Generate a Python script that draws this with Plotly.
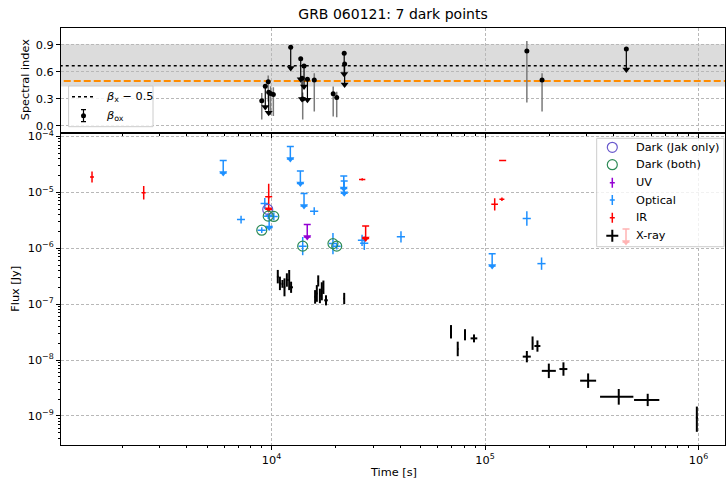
import plotly.graph_objects as go

# ---------------- data ----------------
# X-ray detections (time [s], flux [Jy], asymmetric errors)
xray_t = [10700, 10950, 11250, 11500, 11800, 12100, 12350, 16000, 16300, 16550, 16850, 17200, 17500, 18000, 21900,
          69300, 74500, 80600, 88800, 157000, 167000, 176000, 199000, 233000, 304000, 423000, 578000, 982000]
xray_t_lo = [100, 100, 100, 100, 100, 100, 250, 100, 100, 100, 100, 100, 100, 350, 150,
             300, 600, 700, 3200, 6800, 1000, 5700, 14500, 10000, 25100, 77200, 79100, 10000]
xray_t_hi = [100, 100, 100, 100, 100, 100, 250, 100, 100, 100, 100, 100, 100, 350, 150,
             300, 600, 700, 3200, 6800, 1000, 5700, 15600, 10000, 27400, 72200, 77200, 10000]
xray_f = [3.1e-7, 2.35e-7, 2.3e-7, 2.0e-7, 2.7e-7, 2.7e-7, 2.0e-7, 1.35e-7, 1.55e-7, 2.6e-7, 1.4e-7, 1.7e-7, 2.0e-7, 1.17e-7, 1.26e-7,
          3.2e-8, 1.58e-8, 2.83e-8, 2.44e-8, 1.15e-8, 2.0e-8, 1.78e-8, 6.4e-9, 6.9e-9, 4.27e-9, 2.2e-9, 1.93e-9, 9.3e-10]
xray_f_lo = [0.75e-7, 0.57e-7, 0.34e-7, 0.62e-7, 0.65e-7, 0.92e-7, 0.41e-7, 0.33e-7, 0.45e-7, 0.53e-7, 0.36e-7, 0.53e-7, 0.48e-7, 0.22e-7, 0.26e-7,
             0.77e-8, 0.41e-8, 0.58e-8, 0.37e-8, 0.24e-8, 0.48e-8, 0.37e-8, 1.65e-9, 1.66e-9, 1.1e-9, 0.61e-9, 0.43e-9, 4.1e-10]
xray_f_hi = [0.99e-7, 0.75e-7, 0.40e-7, 0.89e-7, 0.86e-7, 1.38e-7, 0.52e-7, 0.43e-7, 0.64e-7, 0.67e-7, 0.49e-7, 0.76e-7, 0.64e-7, 0.27e-7, 0.33e-7,
             1.02e-8, 0.55e-8, 0.73e-8, 0.43e-8, 0.30e-8, 0.64e-8, 0.46e-8, 2.23e-9, 2.19e-9, 1.49e-9, 0.83e-9, 0.56e-9, 5.4e-10]

# Optical detections
opt_t = [7200, 9300, 9000, 9650, 10250, 14000, 15850, 19400, 20200, 26550, 27200, 40400, 157000, 184000]
opt_t_err = [310, 410, 400, 425, 450, 615, 700, 850, 890, 1170, 1200, 1780, 6900, 8100]
opt_f = [3.25e-6, 6.3e-6, 2.1e-6, 3.75e-6, 3.7e-6, 1.09e-6, 4.6e-6, 1.21e-6, 1.09e-6, 1.39e-6, 1.23e-6, 1.6e-6, 3.4e-6, 5.3e-7]
opt_f_lo = [4.8e-7, 1.3e-6, 2.3e-7, 4.1e-7, 5.5e-7, 3.4e-7, 6.9e-7, 4.3e-7, 1.4e-7, 2.9e-7, 3.0e-7, 3.3e-7, 8.8e-7, 1.19e-7]
opt_f_hi = [5.7e-7, 1.63e-6, 2.6e-7, 4.6e-7, 6.5e-7, 4.9e-7, 8.0e-7, 6.6e-7, 1.6e-7, 3.6e-7, 3.9e-7, 4.1e-7, 1.19e-6, 1.53e-7]
# Optical upper limits
opt_ul_t = [5940, 9750, 12250, 13650, 14200, 21800, 21900, 108000]
opt_ul_f = [3.7e-5, 3.9e-6, 6.6e-5, 2.4e-5, 9.5e-6, 1.95e-5, 1.6e-5, 8.0e-7]

# IR detections
ir_t = [1443, 2520, 9700, 26600, 111000, 120000, 121000]
ir_t_err = [31, 55, 0, 900, 4000, 3200, 4600]
ir_f = [1.88e-5, 9.8e-6, 1.05e-5, 1.7e-5, 6.1e-6, 7.5e-6, 3.7e-5]
ir_f_lo = [3.87e-6, 2.36e-6, 2.72e-6, 7.7e-7, 1.37e-6, 5.0e-7, 0.0]
ir_f_hi = [4.87e-6, 3.12e-6, 3.66e-6, 8.1e-7, 1.76e-6, 5.4e-7, 0.0]
# IR upper limits
ir_ul_t = [9700, 27600]
ir_ul_f = [8.3e-6, 2.5e-6]

# UV upper limits
uv_ul_t = [14700]
uv_ul_f = [2.65e-6]

# Dark points
dark_jak_t = [9600]
dark_jak_f = [4.95e-6]
dark_both_t = [9000, 9650, 10250, 14000, 19400, 20200]
dark_both_f = [2.1e-6, 3.75e-6, 3.7e-6, 1.09e-6, 1.21e-6, 1.09e-6]

# Spectral index panel: beta_ox detections
box_t = [9000, 9650, 9900, 10200, 14000, 15860, 19450, 20200, 157000, 185000]
box_v = [0.28, 0.49, 0.36, 0.35, 0.30, 0.51, 0.356, 0.315, 0.833, 0.511]
box_lo = [0.21, 0.22, 0.24, 0.24, 0.23, 0.35, 0.253, 0.218, 0.574, 0.352]
box_hi = [0.085, 0.07, 0.08, 0.08, 0.07, 0.075, 0.081, 0.065, 0.111, 0.074]
# beta_ox upper limits
box_ul_t = [9350, 9700, 12300, 13700, 13900, 14200, 14730, 21900, 22000, 459000]
box_ul_v = [0.44, 0.375, 0.875, 0.748, 0.53, 0.667, 0.52, 0.807, 0.689, 0.856]

beta_x_minus_half = 0.67
beta_x_band_lo = 0.437
beta_x_band_hi = 0.908
dark_threshold = 0.5

# tick labels
x_tickvals = [1e4, 1e5, 1e6]
x_ticktext = ["10<sup>4</sup>", "10<sup>5</sup>", "10<sup>6</sup>"]
y_tickvals = [1e-9, 1e-8, 1e-7, 1e-6, 1e-5, 1e-4]
y_ticktext = ["10<sup>\u22129</sup>", "10<sup>\u22128</sup>", "10<sup>\u22127</sup>",
              "10<sup>\u22126</sup>", "10<sup>\u22125</sup>", "10<sup>\u22124</sup>"]
y2_tickvals = [0.0, 0.3, 0.6, 0.9]
y2_ticktext = ["0.0", "0.3", "0.6", "0.9"]

legend_labels = ["Dark (Jak only)", "Dark (both)", "UV", "Optical", "IR", "X-ray"]

# ---------------- style ----------------
C_OPT = "#1E90FF"
C_IR = "#FF0000"
C_UV = "#9400D3"
C_XR = "#000000"
C_JAK = "#6A5ACD"
C_BOTH = "#2E8B57"
C_PINK = "#FFB3B3"
C_GREY = "#7a7a7a"
FONT = "DejaVu Sans"
FS = 11.3
UL_FRAC = 0.4
BOX_UL_LEN = 0.23

W, H = 727, 480
ML, MR, MT, MB = 61, 2, 28, 35
SPLIT_PX = 132.5
PH = H - MT - MB
PW = W - ML - MR
split = (H - MB - SPLIT_PX) / PH

x_minor = [m * 10.0 ** e for e in range(3, 7) for m in range(2, 10)]
y_minor = [m * 10.0 ** e for e in range(-10, -3) for m in range(2, 10)]

fig = go.Figure()


def det(t, f, flo, fhi, tlo, thi, color, thick):
    return go.Scatter(x=t, y=f, mode="markers", marker=dict(size=1, color=color),
                      error_y=dict(type="data", symmetric=False, array=fhi, arrayminus=flo,
                                   color=color, thickness=thick, width=0),
                      error_x=dict(type="data", symmetric=False, array=thi, arrayminus=tlo,
                                   color=color, thickness=thick, width=0),
                      xaxis="x", yaxis="y", hoverinfo="skip")


def ul(t, f, color):
    low = [v * (1 - UL_FRAC) for v in f]
    return go.Scatter(x=t, y=low, mode="markers",
                      marker=dict(symbol="triangle-down", size=7, color=color, line=dict(width=0)),
                      error_y=dict(type="data", symmetric=False, array=[v * UL_FRAC for v in f],
                                   arrayminus=[0] * len(f), color=color, thickness=1.5, width=3.5),
                      xaxis="x", yaxis="y", hoverinfo="skip")


# bottom panel
fig.add_trace(det(xray_t, xray_f, xray_f_lo, xray_f_hi, xray_t_lo, xray_t_hi, C_XR, 2))
fig.add_trace(det(opt_t, opt_f, opt_f_lo, opt_f_hi, opt_t_err, opt_t_err, C_OPT, 1.5))
fig.add_trace(det(ir_t, ir_f, ir_f_lo, ir_f_hi, ir_t_err, ir_t_err, C_IR, 1.5))
fig.add_trace(ul(opt_ul_t, opt_ul_f, C_OPT))
fig.add_trace(ul(uv_ul_t, uv_ul_f, C_UV))
fig.add_trace(ul(ir_ul_t, ir_ul_f, C_IR))
fig.add_trace(go.Scatter(x=dark_jak_t, y=dark_jak_f, mode="markers",
                         marker=dict(symbol="circle-open", size=10, color=C_JAK, line=dict(width=1.2)),
                         xaxis="x", yaxis="y", hoverinfo="skip"))
fig.add_trace(go.Scatter(x=dark_both_t, y=dark_both_f, mode="markers",
                         marker=dict(symbol="circle-open", size=10, color=C_BOTH, line=dict(width=1.2)),
                         xaxis="x", yaxis="y", hoverinfo="skip"))

# top panel
XL = [500, 3e6]
fig.add_trace(go.Scatter(x=XL, y=[beta_x_minus_half] * 2, mode="lines",
                         line=dict(color="black", width=1.5, dash="dot"), xaxis="x2", yaxis="y2", hoverinfo="skip"))
fig.add_trace(go.Scatter(x=XL, y=[dark_threshold] * 2, mode="lines",
                         line=dict(color="#FF8C00", width=2, dash="7px,3px"), xaxis="x2", yaxis="y2", hoverinfo="skip"))
fig.add_trace(go.Scatter(x=box_t, y=box_v, mode="markers", marker=dict(size=5, color="black"),
                         error_y=dict(type="data", symmetric=False, array=box_hi, arrayminus=box_lo,
                                      color=C_GREY, thickness=1.5, width=0),
                         xaxis="x2", yaxis="y2", hoverinfo="skip"))
fig.add_trace(go.Scatter(x=box_ul_t, y=box_ul_v, mode="markers", marker=dict(size=5, color="black"),
                         error_y=dict(type="data", symmetric=False, array=[0] * len(box_ul_v),
                                      arrayminus=[BOX_UL_LEN] * len(box_ul_v),
                                      color="black", thickness=1.2, width=0),
                         xaxis="x2", yaxis="y2", hoverinfo="skip"))
fig.add_trace(go.Scatter(x=box_ul_t, y=[v - BOX_UL_LEN for v in box_ul_v], mode="markers",
                         marker=dict(symbol="triangle-down", size=7, color="black"),
                         xaxis="x2", yaxis="y2", hoverinfo="skip"))

# ---------------- legends (overlay axes) ----------------
bot_h = PH * split


def bfy(py):  # bottom-panel fraction
    return (H - MB - py) / bot_h


def tfy(py):  # top-panel fraction
    return (SPLIT_PX - py) / (PH * (1 - split))


def fx(px):
    return (px - ML) / PW


def py_paper(py):
    return (H - MB - py) / PH


# bottom legend box
bx0, bx1, by0, by1 = fx(596.7), fx(724), bfy(246.7), bfy(138.3)
fig.add_trace(go.Scatter(x=[bx0, bx1, bx1, bx0, bx0], y=[by0, by0, by1, by1, by0], mode="lines",
                         fill="toself", fillcolor="rgba(255,255,255,0.8)", line=dict(color="#cccccc", width=1),
                         xaxis="x3", yaxis="y3", hoverinfo="skip"))
rows = [147.3, 164.7, 182.7, 200.0, 217.7, 235.7]
sx = fx(612.3)
fig.add_trace(go.Scatter(x=[sx], y=[bfy(rows[0])], mode="markers",
                         marker=dict(symbol="circle-open", size=10, color=C_JAK, line=dict(width=1.2)),
                         xaxis="x3", yaxis="y3", hoverinfo="skip"))
fig.add_trace(go.Scatter(x=[sx], y=[bfy(rows[1])], mode="markers",
                         marker=dict(symbol="circle-open", size=10, color=C_BOTH, line=dict(width=1.2)),
                         xaxis="x3", yaxis="y3", hoverinfo="skip"))
for r, c, th, ey, ex in [(rows[2], C_UV, 1.5, 5, 2.5), (rows[3], C_OPT, 1.5, 5, 2.5),
                         (rows[4], C_IR, 1.5, 5, 2.5), (rows[5], C_XR, 2, 6, 6)]:
    fig.add_trace(go.Scatter(x=[sx], y=[bfy(r)], mode="markers", marker=dict(size=1, color=c),
                             error_y=dict(type="constant", value=ey / bot_h, color=c, thickness=th, width=0),
                             error_x=dict(type="constant", value=ex / PW, color=c, thickness=th, width=0),
                             xaxis="x3", yaxis="y3", hoverinfo="skip"))
fig.add_trace(go.Scatter(x=[fx(626)], y=[bfy(242)], mode="markers",
                         marker=dict(symbol="triangle-down", size=7, color=C_PINK),
                         error_y=dict(type="data", symmetric=False, array=[13 / bot_h], arrayminus=[0],
                                      color=C_PINK, thickness=1.5, width=3.5),
                         xaxis="x3", yaxis="y3", hoverinfo="skip"))

annotations = []
for r, lab in zip(rows, legend_labels):
    annotations.append(dict(text=lab, x=fx(634), y=py_paper(r), xref="paper", yref="paper",
                            xanchor="left", yanchor="middle", showarrow=False,
                            font=dict(family=FONT, size=FS, color="black")))

# top legend box
tx0, tx1, ty0, ty1 = fx(68.6), fx(153), tfy(126.7), tfy(86)
fig.add_trace(go.Scatter(x=[tx0, tx1, tx1, tx0, tx0], y=[ty0, ty0, ty1, ty1, ty0], mode="lines",
                         fill="toself", fillcolor="rgba(255,255,255,0.8)", line=dict(color="#cccccc", width=1),
                         xaxis="x4", yaxis="y4", hoverinfo="skip"))
fig.add_trace(go.Scatter(x=[fx(72), fx(96)], y=[tfy(96.7)] * 2, mode="lines",
                         line=dict(color="black", width=1.5, dash="dot"), xaxis="x4", yaxis="y4", hoverinfo="skip"))
fig.add_trace(go.Scatter(x=[fx(83.5)], y=[tfy(115.7)], mode="markers", marker=dict(size=5, color="black"),
                         error_y=dict(type="constant", value=6 / (PH * (1 - split)), color="black",
                                      thickness=1.2, width=2.5),
                         xaxis="x4", yaxis="y4", hoverinfo="skip"))
annotations.append(dict(text="<i>β</i><sub>x</sub> \u2212 0.5", x=fx(104), y=py_paper(96.7), xref="paper",
                        yref="paper", xanchor="left", yanchor="middle", showarrow=False,
                        font=dict(family=FONT, size=FS, color="black")))
annotations.append(dict(text="<i>β</i><sub>ox</sub>", x=fx(104), y=py_paper(115.7), xref="paper",
                        yref="paper", xanchor="left", yanchor="middle", showarrow=False,
                        font=dict(family=FONT, size=FS, color="black")))

# axis titles
annotations.append(dict(text="Time [s]", x=0.5, y=py_paper(472), xref="paper", yref="paper",
                        xanchor="center", yanchor="middle", showarrow=False,
                        font=dict(family=FONT, size=FS, color="black")))
annotations.append(dict(text="Flux [Jy]", x=fx(16), y=py_paper((SPLIT_PX + H - MB) / 2), xref="paper",
                        yref="paper", xanchor="center", yanchor="middle", textangle=-90, showarrow=False,
                        font=dict(family=FONT, size=FS, color="black")))
annotations.append(dict(text="Spectral index", x=fx(25), y=py_paper((SPLIT_PX + MT) / 2), xref="paper",
                        yref="paper", xanchor="center", yanchor="middle", textangle=-90, showarrow=False,
                        font=dict(family=FONT, size=FS, color="black")))

shapes = [dict(type="rect", xref="paper", yref="y2", x0=0, x1=1, y0=beta_x_band_lo, y1=beta_x_band_hi,
               fillcolor="#dcdcdc", line=dict(width=0), layer="below")]

axis_common = dict(showline=True, linecolor="black", linewidth=1, mirror=True, ticks="outside",
                   ticklen=4, tickwidth=0.8, tickcolor="black", showgrid=True, gridcolor="#b8b8b8",
                   griddash="3px,2px", gridwidth=0.8, zeroline=False,
                   tickfont=dict(family=FONT, size=FS, color="black"))
minor_x = dict(tickvals=x_minor, ticks="outside", ticklen=2.2, tickwidth=0.6, tickcolor="black", showgrid=False)
minor_y = dict(tickvals=y_minor, ticks="outside", ticklen=2.2, tickwidth=0.6, tickcolor="black", showgrid=False)

fig.update_layout(
    width=W, height=H, margin=dict(l=ML, r=MR, t=MT, b=MB),
    paper_bgcolor="white", plot_bgcolor="white", showlegend=False,
    font=dict(family=FONT, size=FS, color="black"),
    title=dict(text="GRB 060121: 7 dark points", x=0.5, xref="paper", xanchor="center",
               y=1 - 14 / H, yref="container", yanchor="middle", font=dict(family=FONT, size=14, color="black")),
    xaxis=dict(axis_common, type="log", range=[3.014, 6.124], domain=[0, 1], anchor="y",
               tickmode="array", tickvals=x_tickvals, ticktext=x_ticktext, minor=minor_x),
    yaxis=dict(axis_common, type="log", range=[-9.52, -3.93], domain=[0, split], anchor="x",
               tickmode="array", tickvals=y_tickvals, ticktext=y_ticktext, minor=minor_y),
    xaxis2=dict(axis_common, type="log", matches="x", domain=[0, 1], anchor="y2",
                tickmode="array", tickvals=x_tickvals, showticklabels=False, minor=minor_x),
    yaxis2=dict(axis_common, range=[-0.074, 1.089], domain=[split, 1], anchor="x2",
                tickmode="array", tickvals=y2_tickvals, ticktext=y2_ticktext),
    xaxis3=dict(overlaying="x", range=[0, 1], visible=False, anchor="y3"),
    yaxis3=dict(overlaying="y", range=[0, 1], visible=False, anchor="x3"),
    xaxis4=dict(overlaying="x2", range=[0, 1], visible=False, anchor="y4"),
    yaxis4=dict(overlaying="y2", range=[0, 1], visible=False, anchor="x4"),
    annotations=annotations, shapes=shapes,
)

fig.write_html("out.html")
